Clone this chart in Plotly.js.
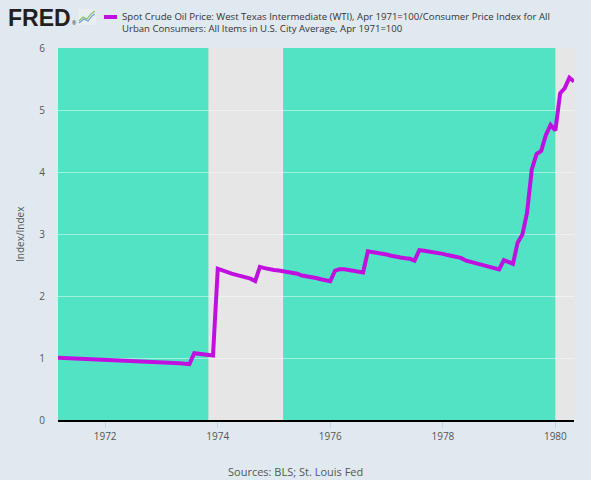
<!DOCTYPE html>
<html>
<head>
<meta charset="utf-8">
<script src="https://cdn.plot.ly/plotly-3.0.1.min.js"></script>
<style>
html,body{margin:0;padding:0;background:#e1e9f0;}
#chart{width:591px;height:480px;}
</style>
</head>
<body>
<div id="chart"></div>
<script>
// ---- Data ----
var startMonth = '1971-03';
var v1971 = [1.003, 1.000, 0.996, 0.992, 0.989, 0.986, 0.983, 0.981, 0.979, 0.976]; // Mar-Dec
var v1972 = [0.973, 0.970, 0.968, 0.966, 0.964, 0.962, 0.958, 0.955, 0.952, 0.949, 0.946, 0.943];
var v1973 = [0.939, 0.933, 0.925, 0.919, 0.914, 0.908, 0.902, 1.078, 1.070, 1.060, 1.050, 1.040];
var v1974 = [2.44, 2.41, 2.38, 2.36, 2.34, 2.32, 2.30, 2.28, 2.24, 2.47, 2.45, 2.43];
var v1975 = [2.42, 2.41, 2.40, 2.39, 2.38, 2.36, 2.33, 2.32, 2.30, 2.29, 2.27, 2.26];
var v1976 = [2.24, 2.41, 2.43, 2.43, 2.42, 2.41, 2.40, 2.38, 2.72, 2.71, 2.70, 2.69];
var v1977 = [2.67, 2.65, 2.63, 2.62, 2.61, 2.60, 2.57, 2.74, 2.73, 2.72, 2.71, 2.70];
var v1978 = [2.68, 2.66, 2.65, 2.63, 2.61, 2.57, 2.55, 2.53, 2.51, 2.49, 2.47, 2.45];
var v1979 = [2.43, 2.58, 2.55, 2.52, 2.86, 2.99, 3.34, 4.04, 4.29, 4.34, 4.60, 4.76];
var v1980 = [4.67, 5.27, 5.35, 5.52, 5.46]; // Jan-May

var recessions = [['1973-11-01', '1975-03-01'], ['1980-01-01', '1980-07-01']];
var xTickVals = ['1972-01-01', '1974-01-01', '1976-01-01', '1978-01-01', '1980-01-01'];
var xTickText = ['1972', '1974', '1976', '1978', '1980'];
var yTickVals = [0, 1, 2, 3, 4, 5, 6];

var seriesName = 'Spot Crude Oil Price: West Texas Intermediate (WTI), Apr 1971=100/Consumer Price Index for All<br>Urban Consumers: All Items in U.S. City Average, Apr 1971=100';
var yTitle = 'Index/Index';
var sourceText = 'Sources: BLS; St. Louis Fed';

// ---- Build monthly series ----
var values = [].concat(v1971, v1972, v1973, v1974, v1975, v1976, v1977, v1978, v1979, v1980);
var dates = [];
var y0 = parseInt(startMonth.slice(0, 4), 10), m0 = parseInt(startMonth.slice(5), 10) - 1;
for (var i = 0; i < values.length; i++) {
  var mm = m0 + i;
  var yy = y0 + Math.floor(mm / 12);
  var mon = (mm % 12) + 1;
  dates.push(yy + '-' + (mon < 10 ? '0' : '') + mon + '-01');
}
var xStart = dates[0], xEnd = dates[dates.length - 1];

// ---- Layout geometry ----
var W = 591, H = 480, ML = 58, MR = 17, MT = 48, MB = 60;
var PW = W - ML - MR, PH = H - MT - MB;
function px(x) { return (x - ML) / PW; }
function py(y) { return (H - MB - y) / PH; }

var lineColor = '#c010e0';
var green = '#52e3c4';

// green (non-recession) bands: gaps between recessions inside the range
var bands = [];
var cur = xStart;
recessions.forEach(function (r) {
  if (r[0] > cur) bands.push([cur, r[0] < xEnd ? r[0] : xEnd]);
  cur = r[1];
});
if (cur < xEnd) bands.push([cur, xEnd]);

var shapes = bands.map(function (b) {
  return { type: 'rect', xref: 'x', yref: 'y', x0: b[0], x1: b[1], y0: 0, y1: 6,
           fillcolor: green, line: { width: 0 }, layer: 'below' };
});

// legend swatch
shapes.push({ type: 'line', xref: 'paper', yref: 'paper', x0: px(104), x1: px(117), y0: py(17), y1: py(17),
              line: { color: lineColor, width: 4 } });
// FRED icon
shapes.push({ type: 'rect', xref: 'paper', yref: 'paper', x0: px(78), x1: px(96), y0: py(25), y1: py(9),
              fillcolor: '#e9eef3', line: { width: 0 } });
function pathOf(pts) {
  return pts.map(function (p, k) { return (k ? 'L' : 'M') + px(p[0]) + ',' + py(p[1]); }).join(' ');
}
shapes.push({ type: 'path', xref: 'paper', yref: 'paper', path: pathOf([[79, 21], [83, 17], [87, 19], [91, 14], [95, 11]]),
              line: { color: '#8cc063', width: 1.2 } });
shapes.push({ type: 'path', xref: 'paper', yref: 'paper', path: pathOf([[79, 23], [84, 19], [88, 21], [92, 16], [95, 14]]),
              line: { color: '#6f9fd6', width: 1.2 } });

var font = 'Open Sans, Noto Sans, sans-serif';

var annotations = [
  { xref: 'paper', yref: 'paper', x: px(6), y: py(18), xanchor: 'left', yanchor: 'middle', showarrow: false,
    text: '<b>FRED</b>', font: { family: 'Liberation Sans, Arial, sans-serif', size: 23, color: '#231f20' } },
  { xref: 'paper', yref: 'paper', x: px(73.5), y: py(23), xanchor: 'center', yanchor: 'middle', showarrow: false,
    text: '®', font: { family: font, size: 5, color: '#231f20' } },
  { xref: 'paper', yref: 'paper', x: px(120), y: py(8), xanchor: 'left', yanchor: 'top', align: 'left', showarrow: false,
    text: seriesName, font: { family: font, size: 9.6, color: '#333333' } },
  { xref: 'paper', yref: 'paper', x: px(20), y: py(234), xanchor: 'center', yanchor: 'middle', showarrow: false,
    textangle: -90, text: yTitle, font: { family: font, size: 10, color: '#555555' } },
  { xref: 'paper', yref: 'paper', x: px(W / 2), y: py(471), xanchor: 'center', yanchor: 'middle', showarrow: false,
    text: sourceText, font: { family: font, size: 11, color: '#555555' } }
];

var trace = {
  type: 'scatter', mode: 'lines', x: dates, y: values, name: seriesName,
  line: { color: lineColor, width: 4 }, hoverinfo: 'x+y'
};

var layout = {
  width: W, height: H,
  margin: { l: ML, r: MR, t: MT, b: MB, pad: 0 },
  paper_bgcolor: '#e1e9f0', plot_bgcolor: '#e6e6e6',
  showlegend: false,
  font: { family: font, size: 10, color: '#555555' },
  xaxis: {
    type: 'date', range: [xStart, xEnd], tickmode: 'array', tickvals: xTickVals, ticktext: xTickText,
    showgrid: false, zeroline: false, showline: true, linecolor: '#000000', linewidth: 2,
    ticks: 'outside', ticklen: 6, tickwidth: 1, tickcolor: '#c5d3e1',
    tickfont: { family: font, size: 10, color: '#555555' }, fixedrange: true
  },
  yaxis: {
    range: [0, 6], tickmode: 'array', tickvals: yTickVals, ticks: '', ticklabelstandoff: 12,
    showgrid: true, gridcolor: 'rgba(255,255,255,0.45)', gridwidth: 1, zeroline: false, showline: false,
    tickfont: { family: font, size: 10, color: '#555555' }, fixedrange: true
  },
  shapes: shapes,
  annotations: annotations
};

Plotly.newPlot('chart', [trace], layout, { displayModeBar: false, staticPlot: true });
</script>
</body>
</html>
